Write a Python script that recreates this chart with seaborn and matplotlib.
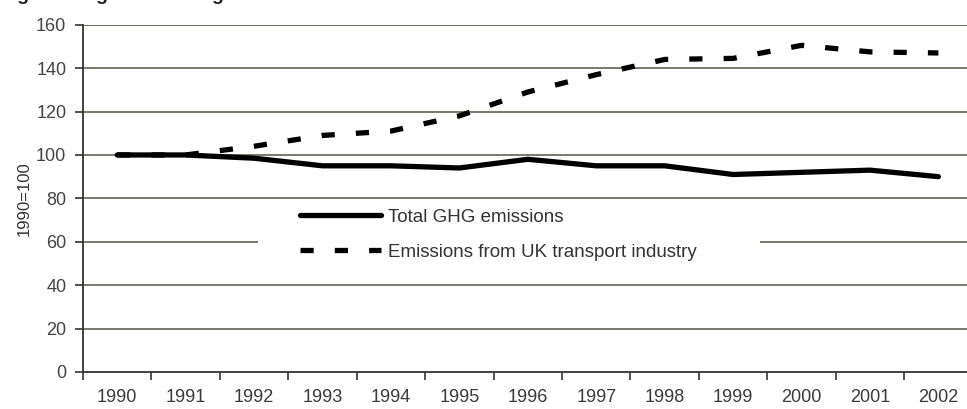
import pandas as pd
import matplotlib.pyplot as plt
import seaborn as sns
from matplotlib.patches import Rectangle

# ── data ────────────────────────────────────────────────────────────────────
years = ["1990", "1991", "1992", "1993", "1994", "1995", "1996",
         "1997", "1998", "1999", "2000", "2001", "2002"]
total_ghg = [100, 100, 98.5, 95, 95, 94, 98, 95, 95, 91, 92, 93, 90]
transport = [100, 100, 104, 109, 111, 118, 129, 137, 144, 144.5, 150.5, 147.5, 147]
yticks = [0, 20, 40, 60, 80, 100, 120, 140, 160]

df = pd.DataFrame({
    "year": years * 2,
    "value": total_ghg + transport,
    "series": ["Total GHG emissions"] * len(years)
              + ["Emissions from UK transport industry"] * len(years),
})

sns.set_theme(style="white")
plt.rcParams["font.family"] = ["Liberation Sans", "DejaVu Sans"]

fig = plt.figure(figsize=(9.67, 4.09), dpi=100)
ax = fig.add_axes([0.0858, 0.0905, 0.920, 0.849])

grid_col = "#6e6e62"
for v in yticks[1:]:
    ax.axhline(v, color=grid_col, lw=1.3, zorder=0)

# white patch behind the legend (breaks the 60 gridline like the original)
ax.add_patch(Rectangle((0.197, 0.34), 0.564, 0.07, transform=ax.transAxes,
                       facecolor="white", edgecolor="none", zorder=1))

sns.lineplot(data=df, x="year", y="value", hue="series", style="series",
             palette=["black", "black"],
             dashes={"Total GHG emissions": "",
                     "Emissions from UK transport industry": (2.5, 4.0)},
             linewidth=3.8, sort=False, ax=ax, zorder=3)

ax.set_ylim(0, 160)
ax.set_xlim(-0.5, 12.5)
ax.set_yticks(yticks)
ax.set_xticks(range(len(years)))
ax.set_xticklabels(years)
ax.set_xticks([i - 0.5 for i in range(len(years) + 1)], minor=True)
ax.tick_params(axis="x", which="major", length=0, pad=12,
               labelsize=13, labelcolor="#3a3a3a")
ax.tick_params(axis="x", which="minor", length=6, width=1.2,
               color="#333333", bottom=True)
ax.tick_params(axis="y", length=6, width=1.2, color="#333333", left=True,
               labelsize=13, labelcolor="#444444", pad=6)

for side in ["top", "right"]:
    ax.spines[side].set_visible(False)
for side in ["left", "bottom"]:
    ax.spines[side].set_color("#333333")
    ax.spines[side].set_linewidth(1.3)
ax.axhline(160, color=grid_col, lw=1.3, zorder=0)

ax.set_xlabel("")
ax.set_ylabel("1990=100", fontsize=12, color="#333333", labelpad=3)

leg = ax.legend(loc="upper left", bbox_to_anchor=(0.244, 0.47),
                frameon=False, fontsize=13.5, handlelength=4.3,
                borderpad=0, labelspacing=0.95, borderaxespad=0,
                handletextpad=0.4)
leg.set_zorder(4)
for t in leg.get_texts():
    t.set_color("#333333")

fig.text(0.0, 1.012, "Fig 1 - UK greenhouse gas emissions 1990-2002",
         fontsize=14, fontweight="bold", color="#222222", va="center")

fig.savefig("out.png", dpi=100)
